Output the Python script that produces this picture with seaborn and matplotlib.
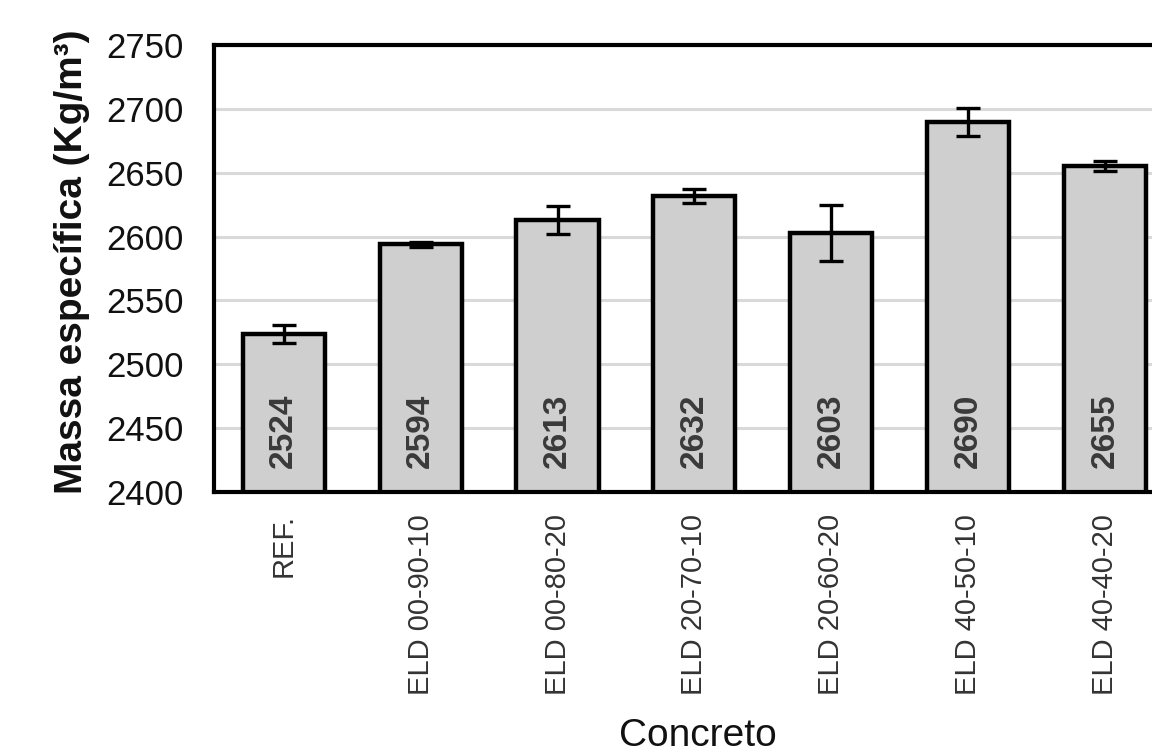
import matplotlib
matplotlib.use("Agg")
import matplotlib.pyplot as plt
import seaborn as sns
import pandas as pd

# Specific mass of each concrete mix (kg/m³) with standard deviation
categories = ["REF.", "ELD 00-90-10", "ELD 00-80-20", "ELD 20-70-10",
              "ELD 20-60-20", "ELD 40-50-10", "ELD 40-40-20"]
massa = [2524, 2594, 2613, 2632, 2603, 2690, 2655]
desvio = [7, 2, 11, 5.5, 22, 11, 4]
yticks = [2400, 2450, 2500, 2550, 2600, 2650, 2700, 2750]

df = pd.DataFrame({"Concreto": categories, "Massa": massa, "Desvio": desvio})

sns.set_theme(style="white")
plt.rcParams["font.family"] = ["Liberation Sans", "DejaVu Sans"]

fig = plt.figure(figsize=(11.52, 7.54), dpi=100)
ax = fig.add_axes([214 / 1152, 262 / 754, 959.5 / 1152, 447 / 754])

ax.yaxis.grid(True, color="#d9d9d9", linewidth=2.2, zorder=0)
ax.set_axisbelow(True)

sns.barplot(data=df, x="Concreto", y="Massa", order=categories,
            color="#d0cfd0", edgecolor="black", linewidth=3.2,
            width=0.6, saturation=1, errorbar=None, ax=ax, zorder=2)

xpos = [p.get_x() + p.get_width() / 2 for p in ax.patches]
ax.errorbar(xpos, df["Massa"], yerr=df["Desvio"], fmt="none",
            ecolor="black", elinewidth=2.4, capsize=8.5, capthick=2.4,
            zorder=3)

for x, v in zip(xpos, df["Massa"]):
    ax.text(x, 2448, f"{v}", rotation=90, ha="center", va="center",
            fontsize=24, fontweight="bold", color="#3a3a3a", zorder=4)

ax.set_ylim(2400, 2750)
ax.set_yticks(yticks)
ax.set_xlim(-0.51, len(categories) - 0.5)

ax.tick_params(axis="y", length=0, pad=22, labelsize=25, labelcolor="#111111")
ax.tick_params(axis="x", length=0, pad=16, labelsize=21, labelcolor="#333333")
for lab in ax.get_xticklabels():
    lab.set_rotation(90)
    lab.set_va("top")
    lab.set_ha("center")

for side in ["left", "bottom", "top", "right"]:
    ax.spines[side].set_color("black")
    ax.spines[side].set_linewidth(3)

ax.set_ylabel("Massa específica (Kg/m³)", fontsize=28, fontweight="bold",
              color="#111111")
ax.yaxis.label.set_va("bottom")
ax.yaxis.set_label_coords((90 - 214) / 959.5, (492 - 262) / 447)

ax.set_xlabel("Concreto", fontsize=28, color="#111111")
ax.xaxis.label.set_va("baseline")
ax.xaxis.set_label_coords((698 - 214) / 959.5, (492 - 746) / 447)

fig.savefig("out.png", dpi=100)
